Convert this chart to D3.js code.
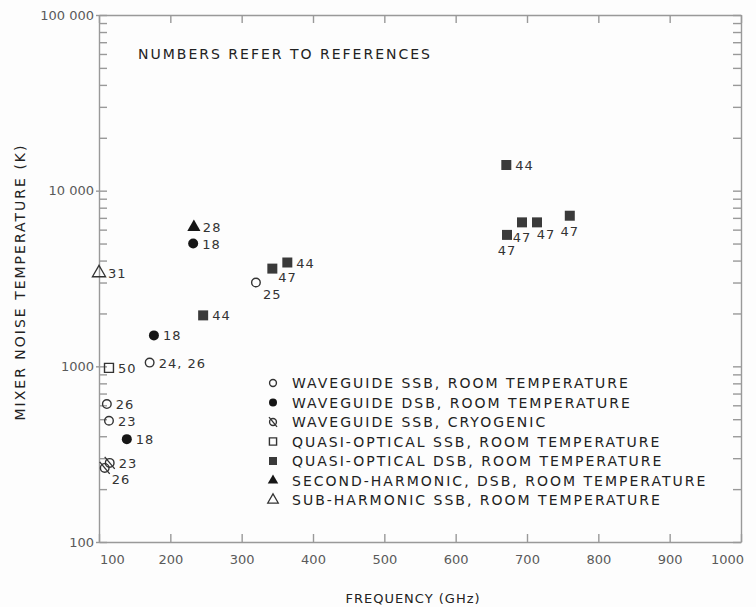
<!DOCTYPE html>
<html>
<head>
<meta charset="utf-8">
<script src="https://cdn.jsdelivr.net/npm/d3@7"></script>
<style>
  body { margin: 0; background: #fdfdfd; }
  svg text { font-family: "DejaVu Sans", sans-serif; fill: #222; }
  .axis path, .axis line { stroke: #999; stroke-width: 1.4; }
  .axis text { fill: #5a5a5a; font-size: 13px; }
</style>
</head>
<body>
<svg class="chart"></svg>
<script>
//CHART DATA
const xTicks = [100, 200, 300, 400, 500, 600, 700, 800, 900, 1000];
const yMajor = [100, 1000, 10000, 100000];
const yTickLabels = ['100', '1000', '10 000', '100 000'];

const legendLabels = [
    'WAVEGUIDE SSB, ROOM TEMPERATURE',
    'WAVEGUIDE DSB, ROOM TEMPERATURE',
    'WAVEGUIDE SSB, CRYOGENIC',
    'QUASI-OPTICAL SSB, ROOM TEMPERATURE',
    'QUASI-OPTICAL DSB, ROOM TEMPERATURE',
    'SECOND-HARMONIC, DSB, ROOM TEMPERATURE',
    'SUB-HARMONIC SSB, ROOM TEMPERATURE'
];
const seriesKeys = ['wgSsb', 'wgDsb', 'wgCryo', 'qoSsb', 'qoDsb', 'secondHarm', 'subHarm'];

// [frequency GHz, temperature K, reference]
const wgSsbPts = [[320, 3000, '25'], [171, 1050, '24, 26'], [111, 610, '26'], [114, 490, '23']];
const wgDsbPts = [[232, 5000, '18'], [177, 1500, '18'], [139, 385, '18']];
const wgCryoPts = [[115, 282, '23'], [108, 264, '26']];
const qoSsbPts = [[114, 980, '50']];
const qoDsbPts = [[246, 1950, '44'], [343, 3600, '47'], [364, 3900, '44'], [671, 14000, '44'],
                  [672, 5600, '47'], [693, 6600, '47'], [714, 6600, '47'], [760, 7200, '47']];
const secondHarmPts = [[233, 6200, '28']];
const subHarmPts = [[100, 3400, '31']];

// where each reference number sits next to its marker
const wgSsbLabelPos = ['rb', 'r', 'r', 'r'];
const wgDsbLabelPos = ['r', 'r', 'r'];
const wgCryoLabelPos = ['r', 'rb'];
const qoSsbLabelPos = ['r'];
const qoDsbLabelPos = ['r', 'rs', 'r', 'r', 'b', 'b', 'br', 'b'];
const secondHarmLabelPos = ['r'];
const subHarmLabelPos = ['r'];

//INITIALIZING CANVAS
const size = {w: 756, h: 607};
const margin = {top: 15, left: 99, bottom: 65, right: 15};

const svg = d3.select('svg.chart')
    .attr('width', size.w)
    .attr('height', size.h);

const x = d3.scaleLinear()
    .domain([100, 1000])
    .range([margin.left, size.w - margin.right]);

const y = d3.scaleLog()
    .domain([100, 100000])
    .range([size.h - margin.bottom, margin.top]);

// all decade sub ticks 200..90000
let yAll = [];
for (let dec of [100, 1000, 10000]) {
    for (let k = 1; k <= 9; k++) yAll.push(dec * k);
}
yAll.push(100000);

//AXES
const bottom = svg.append('g').attr('class', 'axis')
    .attr('transform', `translate(0,${y.range()[0]})`)
    .call(d3.axisBottom(x).tickValues(xTicks).tickSize(-8).tickSizeOuter(0).tickPadding(10)
        .tickFormat(d => d));
bottom.selectAll('.tick text')
    .attr('dx', d => d === 100 ? 13 : d === 1000 ? -14 : 0)
    .attr('dy', '0.9em');

svg.append('g').attr('class', 'axis')
    .attr('transform', `translate(0,${y.range()[1]})`)
    .call(d3.axisTop(x).tickValues(xTicks).tickSize(-8).tickSizeOuter(0).tickFormat(''));

const left = svg.append('g').attr('class', 'axis')
    .attr('transform', `translate(${x.range()[0]},0)`)
    .call(d3.axisLeft(y).tickValues(yAll).tickSize(-8).tickSizeOuter(0).tickPadding(5)
        .tickFormat(d => {
            let i = yMajor.indexOf(d);
            return i >= 0 ? yTickLabels[i] : '';
        }));
left.selectAll('.tick line')
    .attr('x1', d => yMajor.includes(d) ? -3 : 0);

svg.append('g').attr('class', 'axis')
    .attr('transform', `translate(${x.range()[1]},0)`)
    .call(d3.axisRight(y).tickValues(yAll).tickSize(-8).tickSizeOuter(0).tickFormat(''));

//AXIS TITLES
svg.append('text')
    .attr('x', 413)
    .attr('y', 603)
    .attr('text-anchor', 'middle')
    .style('font-size', '13px')
    .style('letter-spacing', '1px')
    .text('FREQUENCY (GHz)');

svg.append('text')
    .attr('transform', `translate(25,${282}) rotate(-90)`)
    .attr('text-anchor', 'middle')
    .style('font-size', '14px')
    .style('letter-spacing', '2px')
    .text('MIXER NOISE TEMPERATURE (K)');

svg.append('text')
    .attr('x', 138)
    .attr('y', 59)
    .style('font-size', '14px')
    .style('letter-spacing', '2px')
    .text('NUMBERS REFER TO REFERENCES');

//SYMBOLS
function drawSymbol(g, key, s) {
    const dark = '#161616';
    if (key === 'wgSsb') {
        g.append('circle').attr('r', 4.3 * s).attr('fill', 'none').attr('stroke', '#333').attr('stroke-width', 1.4);
    } else if (key === 'wgDsb') {
        g.append('circle').attr('r', 5 * s).attr('fill', dark);
    } else if (key === 'wgCryo') {
        g.append('circle').attr('r', 4.3 * s).attr('fill', 'none').attr('stroke', '#333').attr('stroke-width', 1.4);
        g.append('line').attr('x1', -5 * s).attr('y1', -6 * s).attr('x2', 5 * s).attr('y2', 6 * s)
            .attr('stroke', '#333').attr('stroke-width', 1.3);
    } else if (key === 'qoSsb') {
        g.append('path').attr('d', d3.symbol(d3.symbolSquare, 80 * s * s)())
            .attr('fill', 'none').attr('stroke', '#333').attr('stroke-width', 1.4);
    } else if (key === 'qoDsb') {
        g.append('path').attr('d', d3.symbol(d3.symbolSquare, 100 * s * s)()).attr('fill', '#3a3a3a');
    } else if (key === 'secondHarm') {
        g.append('path').attr('d', d3.symbol(d3.symbolTriangle, 75 * s * s)()).attr('fill', dark);
    } else if (key === 'subHarm') {
        g.append('path').attr('d', d3.symbol(d3.symbolTriangle, 75 * s * s)())
            .attr('fill', 'none').attr('stroke', '#333').attr('stroke-width', 1.3);
    }
}

const placements = {
    r:  {dx: 9, dy: 5, anchor: 'start'},
    rb: {dx: 7, dy: 16, anchor: 'start'},
    rs: {dx: 6, dy: 13, anchor: 'start'},
    b:  {dx: 0, dy: 20, anchor: 'middle'},
    br: {dx: 9, dy: 17, anchor: 'middle'}
};

const seriesPts = [wgSsbPts, wgDsbPts, wgCryoPts, qoSsbPts, qoDsbPts, secondHarmPts, subHarmPts];
const seriesPos = [wgSsbLabelPos, wgDsbLabelPos, wgCryoLabelPos, qoSsbLabelPos, qoDsbLabelPos, secondHarmLabelPos, subHarmLabelPos];

const pointsLayer = svg.append('g').attr('class', 'points');
seriesKeys.forEach((key, i) => {
    const pts = seriesPts[i].map((p, j) => ({f: p[0], t: p[1], ref: p[2], pos: seriesPos[i][j]}));
    const g = pointsLayer.selectAll(`g.${key}`)
        .data(pts)
        .enter()
        .append('g')
        .attr('class', key)
        .attr('transform', d => `translate(${x(d.f)},${y(d.t)})`);
    g.each(function() { drawSymbol(d3.select(this), key, 1); });
    g.append('text')
        .attr('x', d => placements[d.pos].dx)
        .attr('y', d => placements[d.pos].dy)
        .attr('text-anchor', d => placements[d.pos].anchor)
        .style('font-size', '13px')
        .style('letter-spacing', '1px')
        .style('fill', '#333')
        .text(d => d.ref);
});

//LEGEND
const legend = svg.append('g').attr('class', 'legend')
    .attr('transform', 'translate(273,383)');
const rows = legend.selectAll('g')
    .data(seriesKeys)
    .enter()
    .append('g')
    .attr('transform', (d, i) => `translate(0,${i * 19.5})`);
rows.each(function(d) { drawSymbol(d3.select(this), d, 0.8); });
rows.append('text')
    .attr('x', 19)
    .attr('y', 5)
    .style('font-size', '14px')
    .style('letter-spacing', '2px')
    .text((d, i) => legendLabels[i]);
</script>
</body>
</html>
